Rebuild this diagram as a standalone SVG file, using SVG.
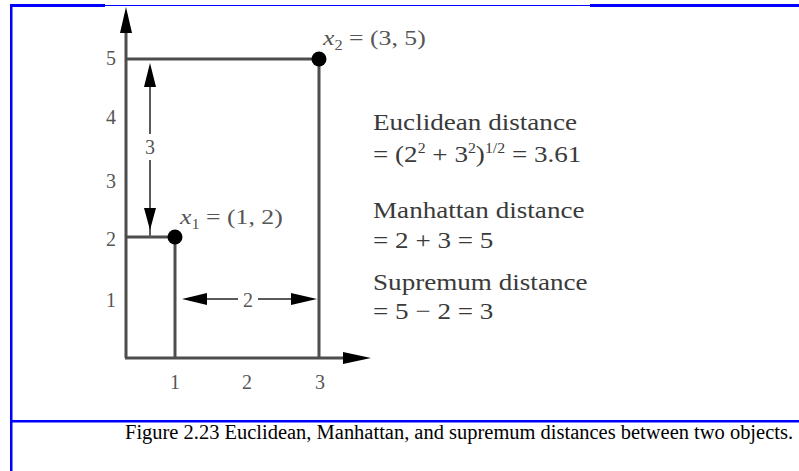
<svg xmlns="http://www.w3.org/2000/svg" width="799" height="471" viewBox="0 0 799 471">
<style>
.frame{fill:#0000ff}
.ln{stroke:#4d4d4d;stroke-width:3;fill:none}
.dl{stroke:#5a5a5a;stroke-width:2;fill:none}
.ah{fill:#000}
.ax{font-family:"Liberation Serif","Times New Roman",serif;font-size:20px;fill:#555;text-anchor:middle}
.tx{font-family:"Liberation Serif","Times New Roman",serif;font-size:24px;fill:#3a3a3a}
.lb{font-family:"Liberation Serif","Times New Roman",serif;font-size:22px;fill:#555}
.cap{font-family:"Liberation Serif","Times New Roman",serif;font-size:20px;fill:#000}
</style>
<rect width="799" height="471" fill="#fff"/>
<g id="frame">
<rect class="frame" x="10" y="4" width="2.5" height="467"/>
<rect class="frame" x="10" y="4" width="95" height="3"/>
<rect class="frame" x="105" y="5" width="485" height="1"/>
<rect class="frame" x="590" y="4" width="209" height="3"/>
<rect class="frame" x="10" y="420" width="789" height="2.5"/>
</g>
<g id="axes">
<line class="ln" x1="126" y1="28" x2="126" y2="358"/>
<line class="ln" x1="125" y1="358" x2="350" y2="358"/>
<polygon class="ah" points="126,7 132,33 120,33"/>
<polygon class="ah" points="371,358 343,352 343,364"/>
<text class="ax" x="111" y="65">5</text>
<text class="ax" x="111" y="124">4</text>
<text class="ax" x="111" y="188">3</text>
<text class="ax" x="111" y="246">2</text>
<text class="ax" x="111" y="307">1</text>
<text class="ax" x="175" y="389">1</text>
<text class="ax" x="247" y="389">2</text>
<text class="ax" x="320" y="389">3</text>
</g>
<g id="connectors">
<line class="ln" x1="126" y1="59" x2="319" y2="59"/>
<line class="ln" x1="319" y1="59" x2="319" y2="358"/>
<line class="ln" x1="126" y1="237" x2="175" y2="237"/>
<line class="ln" x1="175" y1="237" x2="175" y2="358"/>
<g id="dist-3">
<line class="dl" x1="150" y1="80" x2="150" y2="134"/>
<line class="dl" x1="150" y1="160" x2="150" y2="237"/>
<polygon class="ah" points="150,63 156,87 144,87"/>
<polygon class="ah" points="150,230 156,208 144,208"/>
<text class="ax" x="150" y="154">3</text>
</g>
<g id="dist-2">
<line class="dl" x1="200" y1="299" x2="238" y2="299"/>
<line class="dl" x1="258" y1="299" x2="298" y2="299"/>
<polygon class="ah" points="182,299 207,293 207,305"/>
<polygon class="ah" points="317,299 291,293 291,305"/>
<text class="ax" x="248" y="307">2</text>
</g>
</g>
<g id="x1">
<circle cx="175" cy="237" r="7.5" fill="#000"/>
<text class="lb" transform="translate(180,224) scale(1.17,1)" x="0" y="0"><tspan font-style="italic">x</tspan><tspan font-size="14" dy="5">1</tspan><tspan dy="-5"> = (1, 2)</tspan></text>
</g>
<g id="x2">
<circle cx="319" cy="59" r="7.5" fill="#000"/>
<text class="lb" transform="translate(323,45) scale(1.17,1)" x="0" y="0"><tspan font-style="italic">x</tspan><tspan font-size="14" dy="5">2</tspan><tspan dy="-5"> = (3, 5)</tspan></text>
</g>
<g id="legend">
<text class="tx" transform="translate(373,130) scale(1.13,1)" x="0" y="0">Euclidean distance</text>
<text class="tx" transform="translate(373,162) scale(1.13,1)" x="0" y="0">= (2<tspan font-size="14" dy="-9">2</tspan><tspan dy="9"> + 3</tspan><tspan font-size="14" dy="-9">2</tspan><tspan dy="9">)</tspan><tspan font-size="14" dy="-9">1/2</tspan><tspan dy="9"> = 3.61</tspan></text>
<text class="tx" transform="translate(373,218) scale(1.13,1)" x="0" y="0">Manhattan distance</text>
<text class="tx" transform="translate(373,248) scale(1.13,1)" x="0" y="0">= 2 + 3 = 5</text>
<text class="tx" transform="translate(373,290) scale(1.13,1)" x="0" y="0">Supremum distance</text>
<text class="tx" transform="translate(373,319) scale(1.13,1)" x="0" y="0">= 5 − 2 = 3</text>
</g>
<text class="cap" x="125" y="439" textLength="668" lengthAdjust="spacingAndGlyphs">Figure 2.23 Euclidean, Manhattan, and supremum distances between two objects.</text>
</svg>
